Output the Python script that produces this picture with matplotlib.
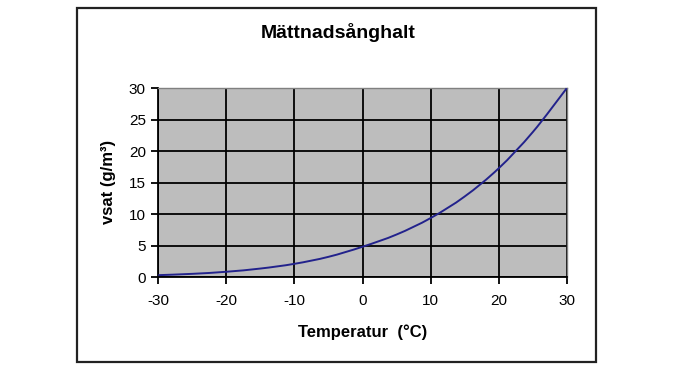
import matplotlib
matplotlib.use("Agg")
import matplotlib.pyplot as plt
from matplotlib.patches import Rectangle, PathPatch
from matplotlib.path import Path

temperature = [-30, -25, -20, -15, -10, -5, 0, 5, 10, 15, 20, 25, 30]
vsat = [0.34, 0.55, 0.88, 1.39, 2.14, 3.25, 4.85, 6.79, 9.40, 12.82, 17.29, 23.03, 30.0]
x_ticks = [-30, -20, -10, 0, 10, 20, 30]
y_ticks = [0, 5, 10, 15, 20, 25, 30]
title = "Mättnadsånghalt"
xlabel = "Temperatur  (°C)"
ylabel = "vsat (g/m³)"

plt.rcParams['font.family'] = ['Liberation Sans', 'DejaVu Sans']

fig = plt.figure(figsize=(6.75, 3.70), dpi=100)
fig.patch.set_facecolor('white')

# outer border
fig.patches.append(Rectangle((77/675, 1-362/370), (596-77)/675, (362-8)/370,
                             transform=fig.transFigure, fill=False,
                             edgecolor='#222222', linewidth=1.6))

ax = fig.add_axes([158.3/675, 1-277.3/370, (566.7-158.3)/675, (277.3-88.3)/370])
ax.set_facecolor('#BDBDBD')

# smoothed line (Catmull-Rom -> cubic Bezier), like a spreadsheet "smoothed line"
n = len(temperature)
verts = [(temperature[0], vsat[0])]
codes = [Path.MOVETO]
for i in range(n - 1):
    p0 = (temperature[max(i - 1, 0)], vsat[max(i - 1, 0)])
    p1 = (temperature[i], vsat[i])
    p2 = (temperature[i + 1], vsat[i + 1])
    p3 = (temperature[min(i + 2, n - 1)], vsat[min(i + 2, n - 1)])
    c1 = (p1[0] + (p2[0] - p0[0]) / 6, p1[1] + (p2[1] - p0[1]) / 6)
    c2 = (p2[0] - (p3[0] - p1[0]) / 6, p2[1] - (p3[1] - p1[1]) / 6)
    verts += [c1, c2, p2]
    codes += [Path.CURVE4] * 3
ax.add_patch(PathPatch(Path(verts, codes), fill=False, edgecolor='#22228C',
                       linewidth=1.4, zorder=3, clip_on=False))

ax.set_xlim(-30, 30)
ax.set_ylim(0, 30)
ax.set_xticks(x_ticks)
ax.set_yticks(y_ticks)
ax.set_xticklabels([str(t) for t in x_ticks], fontsize=11)
ax.set_yticklabels([str(t) for t in y_ticks], fontsize=11)
ax.grid(True, color='black', linewidth=1.3, zorder=1)
ax.set_axisbelow(True)
ax.tick_params(direction='out', length=5, width=1.3, colors='black')
ax.tick_params(axis='x', pad=7)
ax.tick_params(axis='y', pad=4)
for side in ['left', 'bottom']:
    ax.spines[side].set_linewidth(1.3)
    ax.spines[side].set_color('black')
for side in ['right', 'top']:
    ax.spines[side].set_linewidth(1.0)
    ax.spines[side].set_color('#808080')

fig.text(338/675, 1-33/370, title, ha='center', va='center', fontsize=14, fontweight='bold')
fig.text(363/675, 1-332/370, xlabel, ha='center', va='center', fontsize=12, fontweight='bold')
fig.text(108/675, 1-182/370, ylabel, ha='center', va='center', fontsize=12, fontweight='bold', rotation=90)

fig.savefig('out.png', dpi=100)
